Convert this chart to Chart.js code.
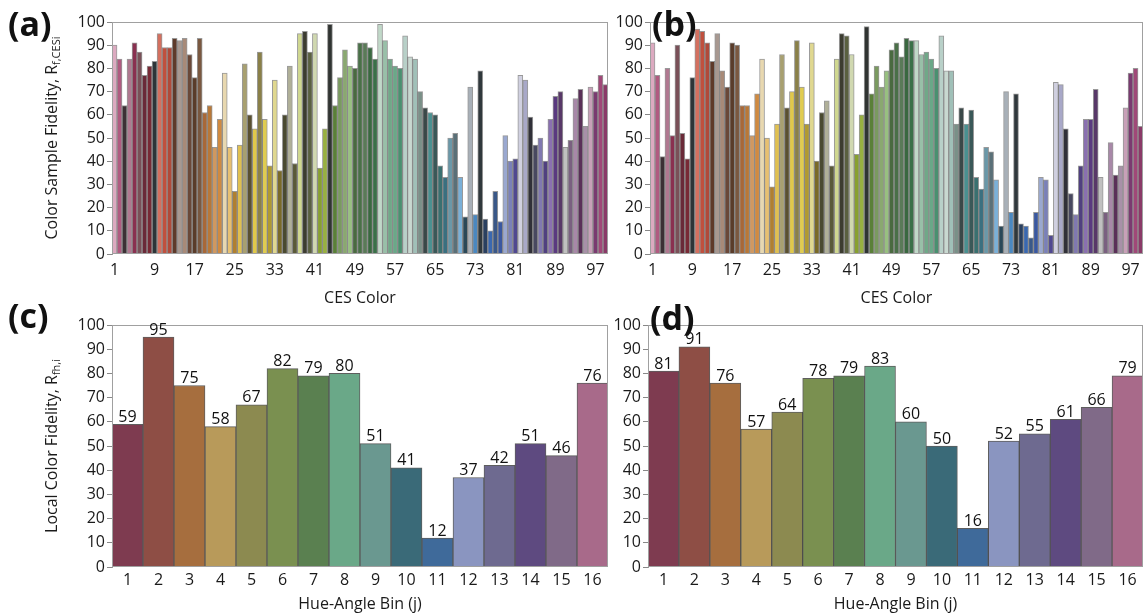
<!DOCTYPE html>
<html>
<head>
<meta charset="utf-8">
<script src="https://cdn.jsdelivr.net/npm/chart.js@4.4.0/dist/chart.umd.min.js"></script>
<style>
  body { margin: 0; background: #fff; width: 1147px; height: 616px; position: relative; overflow: hidden; }
  canvas { position: absolute; }
  .tag { position: absolute; font: bold 34px 'Open Sans', sans-serif; color: #111; line-height: 1; }
</style>
</head>
<body>
<canvas id="chartA" width="612" height="312" style="left:0;top:0"></canvas>
<canvas id="chartB" width="535" height="312" style="left:612px;top:0"></canvas>
<canvas id="chartC" width="612" height="316" style="left:0;top:300px"></canvas>
<canvas id="chartD" width="535" height="316" style="left:612px;top:300px"></canvas>
<div class="tag" style="left:8px;top:6px">(a)</div>
<div class="tag" style="left:652px;top:6px">(b)</div>
<div class="tag" style="left:8px;top:298px">(c)</div>
<div class="tag" style="left:650px;top:300px">(d)</div>
<script>
// CES samples 1..99
const cesColor = Array.from({ length: 99 }, (_, i) => String(i + 1));
const cesTicks = ["1", "9", "17", "25", "33", "41", "49", "57", "65", "73", "81", "89", "97"];

const fidelityA = [
  90, 84, 64, 84, 91, 87, 77, 81, 83, 95, 89, 89, 93, 92, 93, 86, 76, 93, 61, 64,
  46, 58, 78, 46, 27, 47, 82, 60, 54, 87, 58, 38, 75, 36, 60, 81, 39, 95, 96, 87,
  95, 37, 54, 99, 64, 76, 88, 81, 80, 91, 91, 89, 84, 99, 92, 84, 81, 80, 94, 85,
  84, 70, 63, 61, 60, 38, 33, 50, 52, 33, 16, 72, 17, 79, 15, 10, 27, 14, 51, 40,
  41, 77, 75, 59, 47, 50, 40, 58, 68, 70, 46, 49, 67, 71, 55, 72, 70, 77, 73
];
const fidelityB = [
  91, 77, 42, 80, 51, 90, 52, 41, 76, 97, 96, 91, 83, 95, 79, 72, 91, 90, 64, 64,
  51, 69, 84, 50, 29, 56, 86, 63, 70, 92, 72, 56, 91, 40, 61, 66, 38, 84, 95, 94,
  86, 43, 60, 98, 69, 81, 72, 79, 88, 91, 85, 93, 92, 92, 86, 87, 84, 80, 94, 79,
  79, 56, 63, 56, 62, 33, 28, 46, 44, 32, 12, 70, 18, 69, 13, 12, 7, 18, 33, 32,
  8, 74, 73, 54, 26, 17, 38, 58, 58, 71, 33, 18, 48, 34, 38, 63, 78, 80, 55
];

const hueBins = ["1", "2", "3", "4", "5", "6", "7", "8", "9", "10", "11", "12", "13", "14", "15", "16"];
const localC = [59, 95, 75, 58, 67, 82, 79, 80, 51, 41, 12, 37, 42, 51, 46, 76];
const localD = [81, 91, 76, 57, 64, 78, 79, 83, 60, 50, 16, 52, 55, 61, 66, 79];

const cesColors = [
  "#dcaac0", "#b05a80", "#3c3035", "#b07890", "#8a3050", "#7a5058", "#6a2a38", "#782a35", "#2d3538", "#d4705f",
  "#c0503e", "#b04a3a", "#5e3a2a", "#a89890", "#a88a78", "#6a4838", "#5a3c2a", "#7a5840", "#a86838", "#b87838",
  "#d09860", "#d08a40", "#e8d8b0", "#e8c070", "#b08030", "#e0c050", "#a8a070", "#5a5030", "#e0c84a", "#8a8048",
  "#e0cc50", "#b09a30", "#e0d890", "#7a6a28", "#4a4a30", "#b0b098", "#5a5a38", "#d0d890", "#3c3c30", "#5a6040",
  "#d0d8b0", "#88a030", "#98b040", "#303432", "#5a8038", "#7a9a60", "#8aa870", "#98c080", "#4a6a40", "#4a7048",
  "#5a7a58", "#3a6840", "#3a7048", "#c0d8c8", "#98c0a8", "#70a888", "#6aa888", "#4a9070", "#b8d0c8", "#c8d8d0",
  "#a0c0b8", "#7a9088", "#3a4848", "#4a9090", "#3a5858", "#3a7070", "#3a7080", "#6a98a8", "#5a7078", "#7ab0d8",
  "#2a4858", "#a8b0b8", "#4a88c0", "#30383c", "#2a4060", "#3a68b0", "#3a5888", "#3a58a0", "#9aa8d0", "#7a80b8",
  "#504890", "#d0d0e0", "#a8a8c8", "#303038", "#484860", "#8078b0", "#504080", "#8a70b0", "#5a3a80", "#583868",
  "#c0c0c0", "#7a6080", "#a888a8", "#5a3058", "#a890a8", "#c8a0b8", "#7a3a70", "#a04878", "#8a3a68"
];
const binColors = [
  "#7e3b50", "#8e4e45", "#a66e3e", "#b89a5a", "#8c8a50", "#7a9050", "#5a8050", "#6aa888",
  "#6a9890", "#3a6a78", "#3f6a9a", "#8a95c0", "#6e6a90", "#5e4a80", "#806a88", "#a86a8a"
];

Chart.defaults.font.family = "'Open Sans', sans-serif";
Chart.defaults.font.size = 16;
Chart.defaults.color = "#1a1a1a";

const deco = {
  id: "deco",
  afterDraw(chart, args, opts) {
    const { ctx, chartArea: a } = chart;
    ctx.save();
    ctx.strokeStyle = "#a0a0a0";
    ctx.lineWidth = 1;
    ctx.strokeRect(Math.round(a.left) + 0.5, Math.round(a.top) + 0.5,
      Math.round(a.right - a.left) - 1, Math.round(a.bottom - a.top) - 1);

    if (opts.values) {
      const ds = chart.data.datasets[0];
      ctx.fillStyle = "#111";
      ctx.font = "16px 'Open Sans', sans-serif";
      ctx.textAlign = "center";
      ctx.textBaseline = "bottom";
      chart.getDatasetMeta(0).data.forEach((bar, i) => {
        ctx.fillText(ds.data[i], bar.x, bar.y + 1);
      });
    }

    if (opts.yTitle) {
      ctx.translate(opts.yTitleX, (a.top + a.bottom) / 2);
      ctx.rotate(-Math.PI / 2);
      ctx.fillStyle = "#1a1a1a";
      ctx.textBaseline = "middle";
      ctx.textAlign = "left";
      ctx.font = "16px 'Open Sans', sans-serif";
      const w1 = ctx.measureText(opts.yTitle).width;
      ctx.font = "11px 'Open Sans', sans-serif";
      const w2 = ctx.measureText(opts.ySub).width;
      const x0 = -(w1 + w2) / 2;
      ctx.font = "16px 'Open Sans', sans-serif";
      ctx.fillText(opts.yTitle, x0, 0);
      ctx.font = "11px 'Open Sans', sans-serif";
      ctx.fillText(opts.ySub, x0 + w1, 5);
    }
    ctx.restore();
  }
};

function makeChart(id, labels, values, colors, cfg) {
  return new Chart(document.getElementById(id), {
    type: "bar",
    data: {
      labels: labels,
      datasets: [{
        data: values,
        backgroundColor: colors,
        borderColor: cfg.edge,
        borderWidth: 1,
        barPercentage: 1,
        categoryPercentage: 1
      }]
    },
    options: {
      responsive: false,
      animation: false,
      layout: { padding: { top: cfg.top, right: 4, left: 0, bottom: 0 } },
      plugins: {
        legend: { display: false },
        tooltip: { enabled: false },
        deco: cfg.deco
      },
      scales: {
        x: {
          grid: { display: false, drawTicks: false },
          border: { display: false },
          ticks: {
            autoSkip: false,
            maxRotation: 0,
            padding: cfg.tickPad,
            callback: function (value) {
              const l = this.getLabelForValue(value);
              return cfg.only && !cfg.only.includes(l) ? null : l;
            }
          },
          title: {
            display: true,
            text: cfg.xTitle,
            padding: { top: 2, bottom: cfg.titlePad }
          },
          afterFit: (s) => { s.height = cfg.xHeight; }
        },
        y: {
          min: 0,
          max: 100,
          grid: { drawOnChartArea: false, tickLength: 5, color: "#888" },
          border: { color: "#999" },
          ticks: { stepSize: 10, padding: 2 },
          afterFit: (s) => { s.width = cfg.yWidth; }
        }
      }
    },
    plugins: [deco]
  });
}

makeChart("chartA", cesColor, fidelityA, cesColors, {
  top: 22, xHeight: 58, yWidth: 112, tickPad: 7, titlePad: 4, only: cesTicks,
  xTitle: "CES Color", edge: "rgba(70,70,70,0.55)",
  deco: { yTitle: "Color Sample Fidelity, R", ySub: "f,CESi", yTitleX: 52 }
});
makeChart("chartB", cesColor, fidelityB, cesColors, {
  top: 22, xHeight: 58, yWidth: 38, tickPad: 7, titlePad: 4, only: cesTicks,
  xTitle: "CES Color", edge: "rgba(70,70,70,0.55)",
  deco: {}
});
makeChart("chartC", hueBins, localC, binColors, {
  top: 25, xHeight: 49, yWidth: 112, tickPad: 4, titlePad: 2, only: null,
  xTitle: "Hue-Angle Bin (j)", edge: "rgba(40,40,40,0.75)",
  deco: { values: true, yTitle: "Local Color Fidelity, R", ySub: "fh,i", yTitleX: 52 }
});
makeChart("chartD", hueBins, localD, binColors, {
  top: 25, xHeight: 49, yWidth: 36, tickPad: 4, titlePad: 2, only: null,
  xTitle: "Hue-Angle Bin (j)", edge: "rgba(40,40,40,0.75)",
  deco: { values: true }
});
</script>
</body>
</html>
